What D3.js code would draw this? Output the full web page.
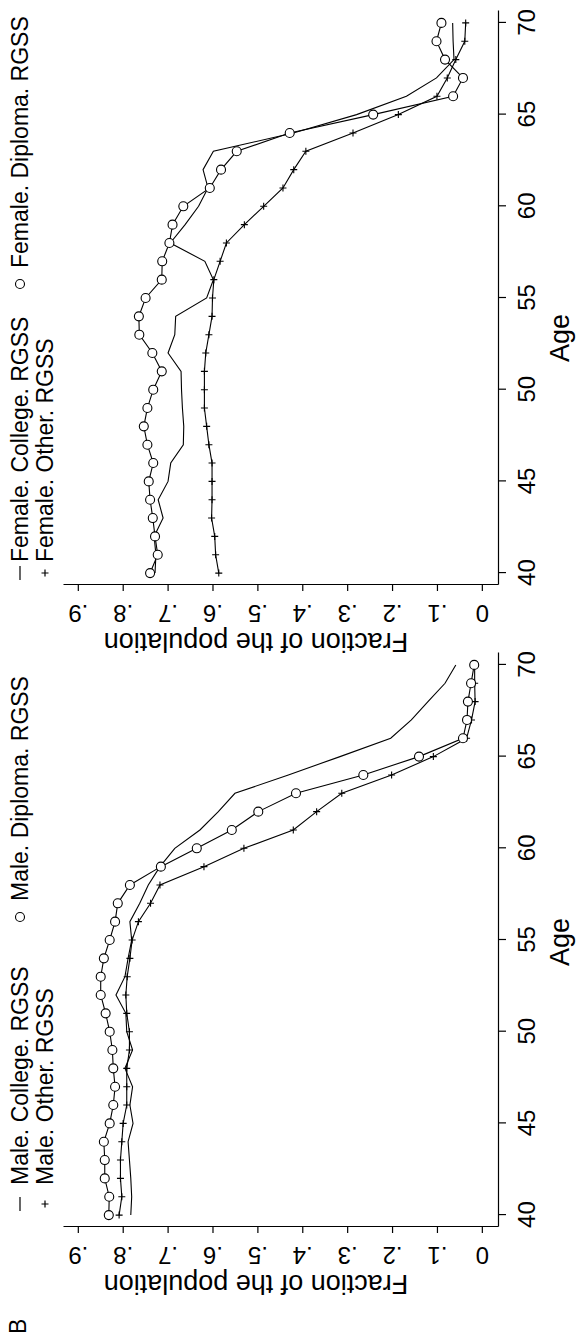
<!DOCTYPE html>
<html>
<head>
<meta charset="utf-8">
<script src="https://cdn.jsdelivr.net/npm/d3@7"></script>
<style>
  body { margin: 0; background: #fff; }
  text { font-family: "Liberation Sans", Arial, Helvetica, sans-serif; fill: #000; }
</style>
</head>
<body>
<div id="chartArea"></div>
<script>
// ages on the x axis
let ages = [40,41,42,43,44,45,46,47,48,49,50,51,52,53,54,55,56,57,58,59,60,61,62,63,64,65,66,67,68,69,70]
let ageTicks = [40,45,50,55,60,65,70]
let fracTicks = [0,.1,.2,.3,.4,.5,.6,.7,.8,.9]
let fracLabels = ['0','.1','.2','.3','.4','.5','.6','.7','.8','.9']

// males
let maleCollege = [.782,.780,.782,.785,.788,.777,.784,.778,.795,.778,.791,.793,.815,.795,.788,.780,
                   .784,.762,.743,.717,.684,.628,.587,.550,.431,.316,.203,.157,.120,.082,.058]
let maleDiploma = [.831,.830,.840,.840,.842,.829,.821,.817,.821,.823,.829,.838,.849,.849,.842,.829,
                   .817,.811,.784,.715,.635,.557,.498,.414,.264,.140,.042,.033,.031,.024,.017]
let maleOther   = [.808,.802,.805,.805,.802,.799,.791,.791,.791,.785,.785,.791,.793,.790,.784,.779,
                   .765,.738,.717,.619,.530,.420,.368,.312,.201,.108,.034,.023,.015,.016,.016]

// females
let femaleCollege = [.728,.726,.730,.710,.721,.699,.693,.665,.664,.667,.669,.670,.699,.684,.682,.613,
                     .598,.617,.694,.661,.631,.610,.621,.598,.420,.279,.168,.101,.062,.064,.065]
let femaleDiploma = [.739,.722,.728,.733,.739,.742,.732,.745,.753,.745,.732,.713,.734,.763,.764,.749,
                     .713,.712,.696,.689,.665,.606,.581,.546,.428,.242,.064,.042,.082,.101,.090]
let femaleOther   = [.586,.593,.595,.602,.601,.601,.601,.608,.613,.618,.618,.618,.615,.608,.601,.600,
                     .597,.583,.569,.529,.486,.443,.419,.392,.287,.186,.100,.077,.058,.038,.036]

let maleNames = ['Male. College. RGSS', 'Male. Other. RGSS', 'Male. Diploma. RGSS']
let femaleNames = ['Female. College. RGSS', 'Female. Other. RGSS', 'Female. Diploma. RGSS']

let svgWidth = 579
let svgHeight = 1337

let svg = d3.select('#chartArea')
    .append('svg')
    .attr('width', svgWidth)
    .attr('height', svgHeight)
    .style('background', '#fff')

// the whole figure is a landscape page turned on its side
let page = svg.append('g')
    .attr('transform', `translate(0,${svgHeight}) rotate(-90)`)

page.append('text')
    .attr('x', 3)
    .attr('y', 26)
    .style('font-size', '23px')
    .text('B')

let plusPath = 'M-3.5,0H3.5M0,-3.5V3.5'

function drawPanel(p) {
  let left = p.left
  let xScale = d3.scaleLinear().domain([39.35, 70.65]).range([left, left + 574])
  let yScale = d3.scaleLinear().domain([-0.036, 0.933]).range([498, 63])

  let g = page.append('g')

  // age axis
  let xAxis = g.append('g')
    .attr('transform', 'translate(0,498)')
    .call(d3.axisBottom(xScale).tickValues(ageTicks).tickSize(8).tickSizeOuter(0).tickPadding(12))
  xAxis.selectAll('text').style('font-size', '24px').attr('fill', '#000')
  xAxis.selectAll('line, path').attr('stroke', '#000').attr('stroke-width', 1.2)

  // fraction axis
  let yAxis = g.append('g')
    .attr('transform', `translate(${left},0)`)
    .call(d3.axisLeft(yScale).tickValues(fracTicks)
      .tickFormat((d, i) => fracLabels[i]).tickSize(6).tickSizeOuter(0))
  yAxis.selectAll('text')
    .attr('x', 0)
    .attr('dy', 0)
    .attr('text-anchor', 'middle')
    .attr('transform', 'translate(-20,0) rotate(-90)')
    .style('font-size', '24px')
    .attr('fill', '#000')
  yAxis.selectAll('line, path').attr('stroke', '#000').attr('stroke-width', 1.2)

  g.append('text')
    .attr('text-anchor', 'middle')
    .attr('transform', `translate(${left - 48},256) rotate(-90)`)
    .style('font-size', '27px')
    .text('Fraction of the population')

  g.append('text')
    .attr('text-anchor', 'middle')
    .attr('x', p.ageTitleX)
    .attr('y', 569)
    .style('font-size', '27px')
    .text('Age')

  let line = d3.line()
    .x((d, i) => xScale(ages[i]))
    .y(d => yScale(d))

  g.append('path').datum(p.college)
    .attr('d', line).attr('fill', 'none').attr('stroke', '#000').attr('stroke-width', 1.1)
  g.append('path').datum(p.diploma)
    .attr('d', line).attr('fill', 'none').attr('stroke', '#000').attr('stroke-width', 1.1)
  g.append('path').datum(p.other)
    .attr('d', line).attr('fill', 'none').attr('stroke', '#000').attr('stroke-width', 1.1)

  g.selectAll('.plus')
    .data(p.other)
    .enter()
    .append('path')
    .attr('class', 'plus')
    .attr('transform', (d, i) => `translate(${xScale(ages[i])},${yScale(d)})`)
    .attr('d', plusPath)
    .attr('stroke', '#000')
    .attr('stroke-width', 1.1)

  g.selectAll('circle')
    .data(p.diploma)
    .enter()
    .append('circle')
    .attr('cx', (d, i) => xScale(ages[i]))
    .attr('cy', d => yScale(d))
    .attr('r', 4.5)
    .attr('fill', '#fff')
    .attr('stroke', '#000')
    .attr('stroke-width', 1.1)

  // legend
  let lg = p.legend
  g.append('line')
    .attr('x1', lg.key1).attr('x2', lg.key1 + 14).attr('y1', 20).attr('y2', 20)
    .attr('stroke', '#000').attr('stroke-width', 1.2)
  g.append('path')
    .attr('transform', `translate(${lg.key1 + 7},45)`)
    .attr('d', plusPath).attr('stroke', '#000').attr('stroke-width', 1.2)
  g.append('circle')
    .attr('cx', lg.key3).attr('cy', 20).attr('r', 4.5)
    .attr('fill', '#fff').attr('stroke', '#000').attr('stroke-width', 1.1)

  g.append('text').attr('x', lg.text1).attr('y', 28).style('font-size', '23px').text(p.names[0])
  g.append('text').attr('x', lg.text1).attr('y', 53).style('font-size', '23px').text(p.names[1])
  g.append('text').attr('x', lg.key3 + 16).attr('y', 28).style('font-size', '23px').text(p.names[2])
}

drawPanel({
  left: 110,
  college: maleCollege, diploma: maleDiploma, other: maleOther,
  names: maleNames,
  ageTitleX: 395,
  legend: {key1: 126, text1: 152, key3: 420}
})

drawPanel({
  left: 752,
  college: femaleCollege, diploma: femaleDiploma, other: femaleOther,
  names: femaleNames,
  ageTitleX: 999,
  legend: {key1: 757, text1: 775, key3: 1053}
})
</script>
</body>
</html>
